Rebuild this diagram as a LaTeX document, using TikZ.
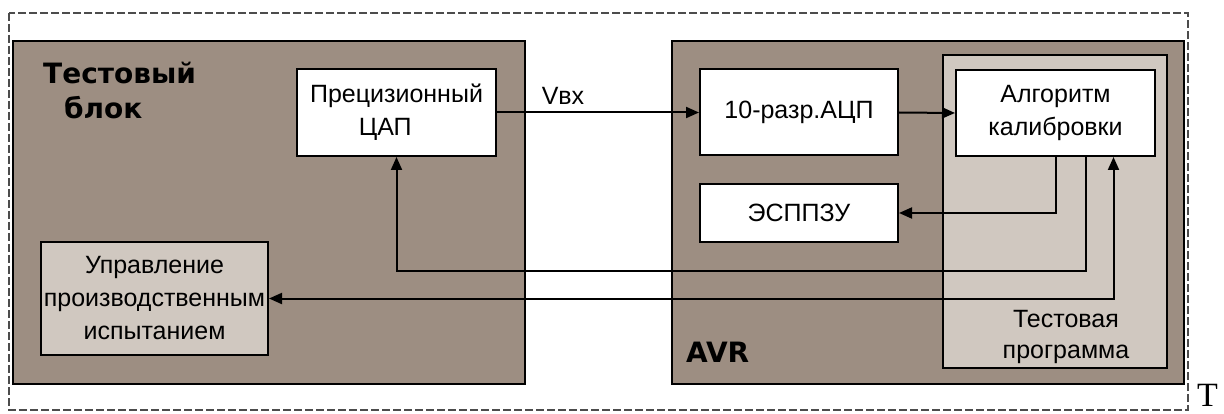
\documentclass[tikz,border=0pt]{standalone}
\usepackage{fontspec}
\setmainfont{Liberation Sans}
\newfontfamily\serifT{Liberation Serif}
\newfontfamily\boldlbl{DejaVu Sans Bold}
\usetikzlibrary{arrows.meta}
\definecolor{darkfill}{RGB}{157,142,130}
\definecolor{lightfill}{RGB}{208,200,192}

\begin{document}
\begin{tikzpicture}[x=1pt, y=-1pt]
\tikzstyle{block} = [rectangle, draw = black, line width = 2pt, fill = darkfill, inner sep = 0pt]
\tikzstyle{vertex} = [rectangle, draw = black, line width = 2pt, fill = white, inner sep = 0pt, align = center, font = \fontsize{25}{33}\selectfont]
\tikzstyle{label} = [inner sep = 0pt, align = center]
\tikzstyle{edge} = [-{Triangle[length=13pt, width=11pt]}, line width = 2pt]
\useasboundingbox (0, 0) rectangle (1224, 414);
\draw[line width = 1.4pt, black!70, dash pattern = on 8pt off 3pt] (9, 13) rectangle (1188, 410);
\node[block, minimum width = 512pt, minimum height = 343pt] (tb) at (269, 212.5) {};
\node[block, minimum width = 512pt, minimum height = 343pt] (avr) at (928, 212.5) {};
\node[block, fill = lightfill, minimum width = 224pt, minimum height = 313pt] (prog) at (1055, 211.5) {};
\node[label, align = left, font = \boldlbl\fontsize{28}{35}\selectfont, anchor = base west] (tblbl) at (43, 119) {Тестовый\\\hspace*{0.75em}блок};
\node[label, font = \boldlbl\fontsize{28}{35}\selectfont, anchor = base west] (avrlbl) at (686, 362) {AVR};
\node[label, font = \fontsize{25}{31}\selectfont] (proglbl) at (1066, 337) {Тестовая\\программа};
\node[vertex, minimum width = 199pt, minimum height = 87pt] (dac) at (396.5, 112.5) {Прецизионный\\ЦАП\hspace*{0.9em}};
\node[vertex, minimum width = 198pt, minimum height = 86pt] (adc) at (799, 112.5) {10-разр.АЦП};
\node[vertex, minimum width = 198pt, minimum height = 58pt] (eep) at (799, 213) {ЭСППЗУ};
\node[vertex, minimum width = 199pt, minimum height = 86pt] (alg) at (1055.5, 113) {Алгоритм\\калибровки};
\node[vertex, fill = lightfill, minimum width = 227pt, minimum height = 113pt] (ctrl) at (154.5, 298.5) {Управление\\производственным\\испытанием};
\node[label, font = \fontsize{25}{31}\selectfont] (vin) at (563, 96) {Vвх};
\draw[edge] (dac.east) -- (adc.west);
\draw[edge] (adc.east) -- (alg.west);
\draw[edge] (alg.south) |- (eep.east);
\draw[edge] ([xshift = 30pt]alg.south) -- ++(0, 114) -| (dac.south);
\draw[edge, {Triangle[length=13pt, width=11pt]}-{Triangle[length=13pt, width=11pt]}] (ctrl.east) -| ([xshift = 58pt]alg.south);
\node[label, font = \serifT\fontsize{34}{38}\selectfont, anchor = base west] (t) at (1197, 406) {T};
\end{tikzpicture}
\end{document}
